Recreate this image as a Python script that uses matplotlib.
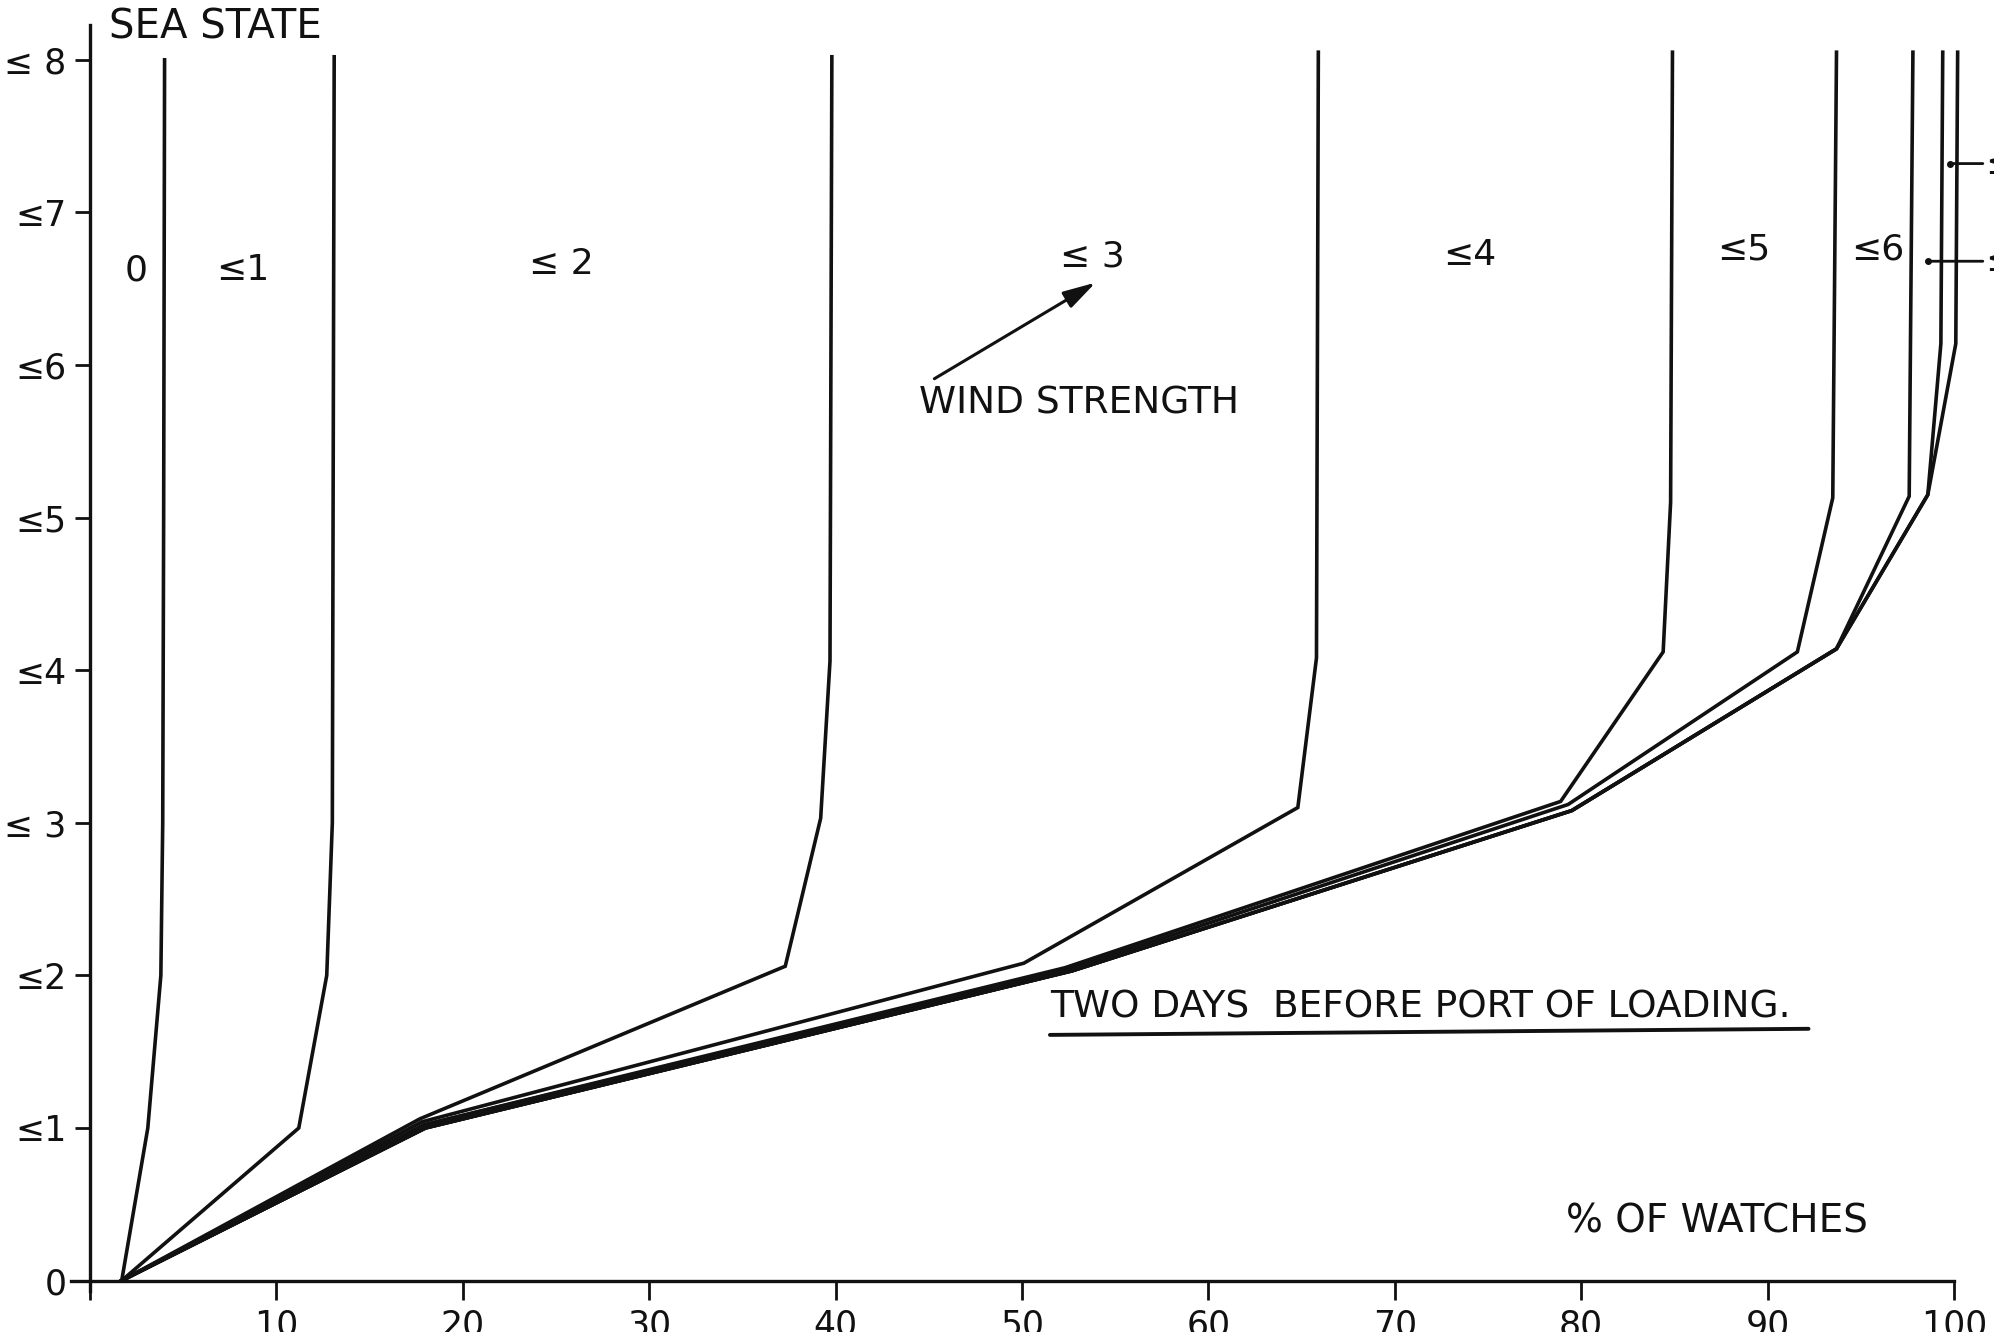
import matplotlib
matplotlib.use("Agg")
import matplotlib.pyplot as plt

# ---- data (x = % of watches, y = sea state) ----
wind_labels = ["0", "≤1", "≤ 2", "≤ 3", "≤4", "≤5", "≤6", "≤7", "≤8"]

wind0_x = [1.7, 3.1, 3.8, 3.9, 3.95, 4.0]
wind0_y = [0.0, 1.0, 2.0, 3.0, 5.0, 8.0]

wind1_x = [1.7, 11.2, 12.7, 13.0, 13.1]
wind1_y = [0.0, 1.0, 2.0, 3.0, 8.02]

wind2_x = [1.7, 17.7, 37.3, 39.2, 39.7, 39.8]
wind2_y = [0.0, 1.06, 2.06, 3.03, 4.06, 8.02]

wind3_x = [1.7, 17.8, 50.1, 64.8, 65.8, 65.9]
wind3_y = [0.0, 1.04, 2.08, 3.10, 4.08, 8.05]

wind4_x = [1.7, 17.9, 52.3, 78.9, 84.4, 84.8, 84.9]
wind4_y = [0.0, 1.02, 2.05, 3.14, 4.12, 5.10, 8.05]

wind5_x = [1.7, 17.9, 52.5, 79.3, 91.6, 93.5, 93.7]
wind5_y = [0.0, 1.02, 2.04, 3.12, 4.12, 5.13, 8.05]

wind6_x = [1.7, 18.0, 52.7, 79.5, 93.7, 97.6, 97.8]
wind6_y = [0.0, 1.00, 2.03, 3.08, 4.14, 5.14, 8.05]

wind7_x = [1.7, 18.0, 52.7, 79.5, 93.7, 98.6, 99.3, 99.4]
wind7_y = [0.0, 1.00, 2.03, 3.08, 4.14, 5.15, 6.14, 8.05]

wind8_x = [1.7, 18.0, 52.7, 79.5, 93.7, 98.6, 100.1, 100.2]
wind8_y = [0.0, 1.00, 2.03, 3.08, 4.14, 5.15, 6.14, 8.05]

curves_x = [wind0_x, wind1_x, wind2_x, wind3_x, wind4_x, wind5_x, wind6_x, wind7_x, wind8_x]
curves_y = [wind0_y, wind1_y, wind2_y, wind3_y, wind4_y, wind5_y, wind6_y, wind7_y, wind8_y]

# region labels (placed inside the regions between curves)
region_label_x = [2.5, 8.2, 25.3, 53.8, 74.0, 88.7, 95.9]
region_label_y = [6.62, 6.62, 6.66, 6.71, 6.72, 6.76, 6.76]

x_ticks = [0, 10, 20, 30, 40, 50, 60, 70, 80, 90, 100]
x_ticklabels = ["", "10", "20", "30", "40", "50", "60", "70", "80", "90", "100"]
y_ticks = [0, 1, 2, 3, 4, 5, 6, 7, 8]
y_ticklabels = ["0", "≤1", "≤2", "≤ 3", "≤4", "≤5", "≤6", "≤7", "≤ 8"]

INK = "#111111"
plt.rcParams['font.family'] = ['DejaVu Sans']

fig = plt.figure(figsize=(19.94, 13.32), dpi=100)
fig.patch.set_facecolor("white")
ax = fig.add_axes([0, 0, 1, 1])
ax.set_facecolor("white")
ax.set_xlim(-4.83, 102.15)
ax.set_ylim(-0.337, 8.392)

for s in ["top", "right"]:
    ax.spines[s].set_visible(False)
ax.spines["left"].set_position(("data", 0))
ax.spines["bottom"].set_position(("data", 0))
ax.spines["left"].set_bounds(-0.07, 8.23)
ax.spines["bottom"].set_bounds(-1.0, 100)
for s in ["left", "bottom"]:
    ax.spines[s].set_linewidth(2.4)
    ax.spines[s].set_color(INK)

ax.set_xticks(x_ticks)
ax.set_xticklabels(x_ticklabels)
ax.set_yticks(y_ticks)
ax.set_yticklabels(y_ticklabels)
ax.tick_params(axis="x", direction="out", length=14, width=2, pad=6,
               labelsize=25, colors=INK)
ax.tick_params(axis="y", direction="out", length=11, width=2, pad=6,
               labelsize=25, colors=INK)

for cx, cy in zip(curves_x, curves_y):
    ax.plot(cx, cy, color=INK, lw=2.6, solid_joinstyle="miter")

for lab, lx, ly in zip(wind_labels[:7], region_label_x, region_label_y):
    ax.text(lx, ly, lab, fontsize=26, color=INK, ha="center", va="center")

# right-hand labels running off the edge
ax.plot([99.8], [7.32], "o", color=INK, ms=4)
ax.annotate(wind_labels[8], xy=(99.8, 7.32), xytext=(101.7, 7.32),
            fontsize=26, color=INK, ha="left", va="center",
            arrowprops=dict(arrowstyle="-", color=INK, lw=2,
                            shrinkA=0, shrinkB=0), annotation_clip=False)
ax.plot([98.6], [6.68], "o", color=INK, ms=4)
ax.annotate(wind_labels[7], xy=(98.6, 6.68), xytext=(101.7, 6.68),
            fontsize=26, color=INK, ha="left", va="center",
            arrowprops=dict(arrowstyle="-", color=INK, lw=2,
                            shrinkA=0, shrinkB=0), annotation_clip=False)

# wind strength arrow
ax.annotate("", xy=(53.95, 6.54), xytext=(45.3, 5.91),
            arrowprops=dict(arrowstyle="-|>,head_length=0.9,head_width=0.25",
                            color=INK, lw=2.2, mutation_scale=22,
                            shrinkA=0, shrinkB=0))
ax.text(44.5, 5.75, "WIND STRENGTH", fontsize=27, color=INK,
        ha="left", va="center")

ax.text(1.0, 8.21, "SEA STATE", fontsize=29, color=INK, ha="left", va="center")
ax.text(79.2, 0.39, "% OF WATCHES", fontsize=28, color=INK, ha="left", va="center")

ax.text(51.5, 1.79, "TWO DAYS  BEFORE PORT OF LOADING.", fontsize=27, color=INK,
        ha="left", va="center")
ax.annotate("", xy=(92.2, 1.65), xytext=(51.5, 1.61),
            arrowprops=dict(arrowstyle="-", color=INK, lw=2.8,
                            shrinkA=0, shrinkB=0))

fig.savefig("out.png", dpi=100, facecolor="white")
